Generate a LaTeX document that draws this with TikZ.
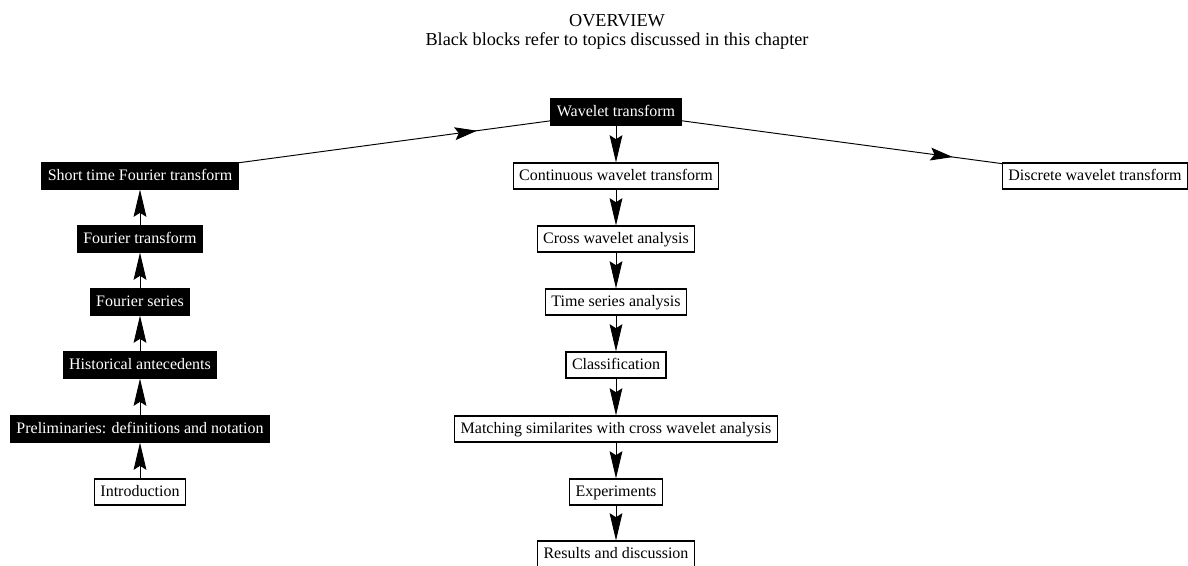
\documentclass[tikz,border=0pt]{standalone}
\usepackage{fontspec}
\setmainfont{Liberation Serif}
\usetikzlibrary{arrows.meta}
\usetikzlibrary{decorations.markings}
\tikzset{
    blackblock/.style = {rectangle, draw=black, line width=0.8pt, fill=black, text=white,
        inner xsep=3.7pt, inner ysep=3.6pt, text height=7pt, text depth=2pt, font=\fontsize{10}{12}\selectfont},
    whiteblock/.style = {rectangle, draw=black, line width=0.8pt, fill=white, text=black,
        inner xsep=3.7pt, inner ysep=3.6pt, text height=7pt, text depth=2pt, font=\fontsize{10}{12}\selectfont},
    edgen/.style = {-{Stealth[length=17pt,width=8pt,inset=2.5pt]}, line width=0.6pt},
    edgem/.style = {line width=0.6pt, postaction={decorate},
        decoration={markings, mark=at position #1 with {\arrow{Stealth[length=14pt,width=8pt,inset=2.5pt]}}}},
    titletext/.style = {font=\fontsize{11.4}{13.5}\selectfont, align=center}
}
\begin{document}
\begin{tikzpicture}[x=0.625pt,y=-0.625pt]
\path[use as bounding box] (0,0) rectangle (1188,565);
%
\node[titletext] at (617,21) (title) {OVERVIEW};
\node[titletext] at (617,41) (subtitle) {Black blocks refer to topics discussed in this chapter};
%
\node[blackblock] at (616,112) (wt) {Wavelet transform};
\node[blackblock] at (140,176) (stft) {Short time Fourier transform};
\node[blackblock] at (140,239) (ft) {Fourier transform};
\node[blackblock] at (140,302) (fs) {Fourier series};
\node[blackblock] at (140,365) (hist) {Historical antecedents};
\node[blackblock] at (140,429) (prel) {Preliminaries: definitions and notation};
\node[whiteblock] at (140,492) (intro) {Introduction};
%
\node[whiteblock] at (616,176) (cwt) {Continuous wavelet transform};
\node[whiteblock] at (616,239) (xwa) {Cross wavelet analysis};
\node[whiteblock] at (616,302) (tsa) {Time series analysis};
\node[whiteblock] at (616,365) (cls) {Classification};
\node[whiteblock] at (616,429) (match) {Matching similarites with cross wavelet analysis};
\node[whiteblock] at (616,492) (exp) {Experiments};
\node[whiteblock] at (616,554) (res) {Results and discussion};
\node[whiteblock] at (1095,176) (dwt) {Discrete wavelet transform};
%
\draw[edgen] (intro) -- (prel);
\draw[edgen] (prel) -- (hist);
\draw[edgen] (hist) -- (fs);
\draw[edgen] (fs) -- (ft);
\draw[edgen] (ft) -- (stft);
\draw[edgem=0.765] (stft) -- (wt);
\draw[edgem=0.847] (wt) -- (dwt);
\draw[edgen] (wt) -- (cwt);
\draw[edgen] (cwt) -- (xwa);
\draw[edgen] (xwa) -- (tsa);
\draw[edgen] (tsa) -- (cls);
\draw[edgen] (cls) -- (match);
\draw[edgen] (match) -- (exp);
\draw[edgen] (exp) -- (res);

\end{tikzpicture}
\end{document}
